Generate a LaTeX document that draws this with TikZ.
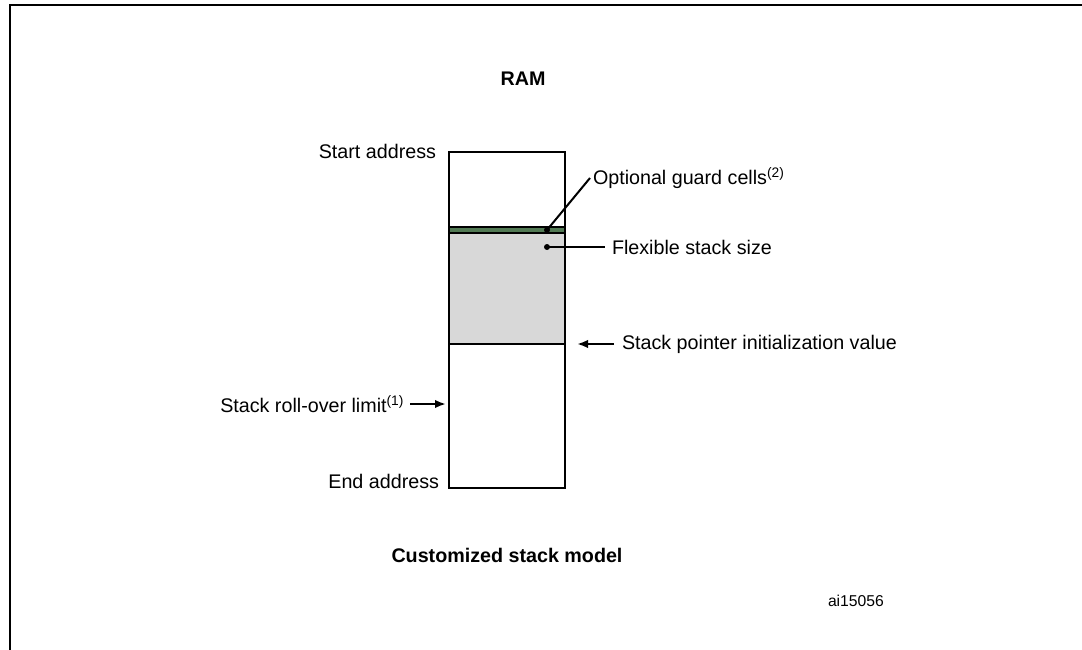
\documentclass[tikz,border=0pt]{standalone}
\usepackage{fontspec}
\setmainfont{Liberation Sans}
\usepackage{color}
\definecolor{myguardgreen}{RGB}{82,122,84}
\definecolor{mystackgrey}{RGB}{216,216,216}
\usepackage{tikz}
\usetikzlibrary{calc,arrows,arrows.meta,positioning}

\begin{document}
\begin{tikzpicture}[
  x=1pt,
  y=-1pt,
  line width=2pt,
  mycell/.style={
    draw,
    rectangle,
    minimum width=116pt,
    minimum height=#1,
    inner sep=0pt,
    outer sep=0pt
    },
  mytext/.style={
    inner sep=0pt,
    font=\fontsize{19.7}{23}\selectfont
    },
  mytitle/.style={
    inner sep=0pt,
    font=\fontsize{19.7}{23}\selectfont\bfseries
    },
  mydot/.style={
    circle,
    fill,
    inner sep=0pt,
    minimum size=6pt
    },
  myarrow/.style={
    line width=2.5pt,
    -{Latex[length=11pt,width=8.5pt]}
    }
]

\useasboundingbox (0,0) rectangle (1082,650);
\draw (1082,5) -- (10,5) -- (10,650);

\node[mycell=75pt] (top) at (507,189.5) {};
\node[mycell=6pt, fill=myguardgreen, below=0pt of top] (guard) {};
\node[mycell=111pt, fill=mystackgrey, below=0pt of guard] (stack) {};
\node[mycell=144pt, below=0pt of stack] (free) {};

\node[mytitle, above=65pt of top, xshift=16pt] (ram) {RAM};
\node[mytitle, below=59pt of free] (caption) {Customized stack model};
\node[inner sep=0pt, font=\fontsize{15.7}{18}\selectfont, anchor=west] (figid) at (827,601) {ai15056};

\node[mytext, anchor=east] (startaddr) at ($(top.north west)+(-12,-1)$) {Start address};
\node[mytext, anchor=east] (endaddr) at ($(free.south west)+(-9,-7)$) {End address};

\node[mydot] (guarddot) at ($(guard.center)+(40,0)$) {};
\node[mydot] (stackdot) at ($(stack.north)+(40,14)$) {};

\node[mytext, anchor=west] (guardlabel) at (592,178) {Optional guard cells\textsuperscript{(2)}};
\node[mytext, anchor=west] (flexlabel) at ($(stackdot)+(64,0)$) {Flexible stack size};
\draw (guarddot.center) -- ([xshift=-2pt]guardlabel.west);
\draw (stackdot.center) -- ([xshift=-6pt]flexlabel.west);

\coordinate (sppt) at ($(stack.south east)+(12,0)$);
\node[mytext, right=44pt of sppt] (splabel) {Stack pointer initialization value};
\draw[myarrow] ([xshift=-7pt]splabel.west) -- (sppt);

\coordinate (rollpt) at ($(free.north west)+(-3,60)$);
\node[mytext, left=41pt of rollpt] (rolllabel) {Stack roll-over limit\textsuperscript{(1)}};
\draw[myarrow] ([xshift=5pt]rolllabel.east) -- (rollpt);
\end{tikzpicture}
\end{document}
